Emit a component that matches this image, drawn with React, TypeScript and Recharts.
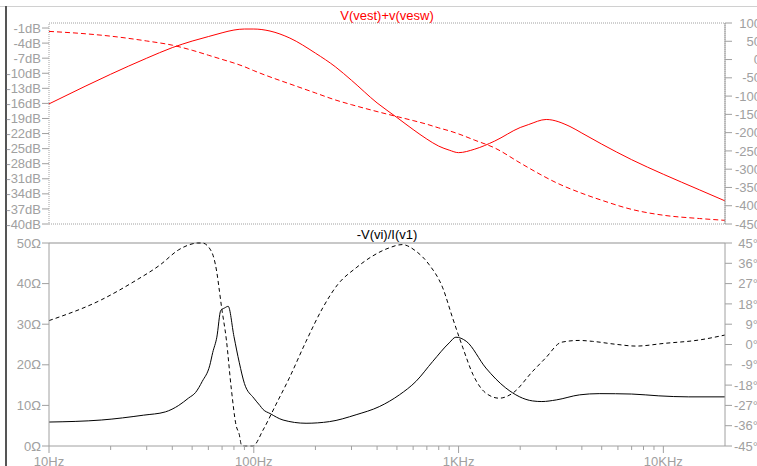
import React from "react";
import { LineChart, Line, XAxis, YAxis, ReferenceArea, ReferenceLine } from "recharts";

const FONT = "'Liberation Sans', Arial, sans-serif";
const AXIS = "#a0a0a0";

// top pane: V(vest)+v(vesw), magnitude (dB) and phase
const MAG_FREQ = [10, 15, 20, 30, 40, 50, 60, 70, 80, 90, 100, 120, 150, 200, 250, 300, 400, 500, 600, 700, 800, 900, 1000, 1200, 1500, 2000, 2200, 2680, 3500, 4000, 5000, 7000, 10000, 15000, 20000];
const MAG_DB = [-16.1, -12.6, -10.2, -7.0, -4.9, -3.6, -2.7, -1.95, -1.4, -1.2, -1.2, -1.6, -3.0, -6.0, -8.7, -11.4, -15.9, -18.8, -21.2, -23.1, -24.5, -25.3, -25.8, -25.1, -23.5, -20.8, -20.2, -19.2, -20.6, -21.9, -24.1, -27.2, -30.1, -33.2, -35.4];
const PH_FREQ = [10, 15, 20, 30, 40, 50, 60, 70, 80, 90, 100, 120, 150, 200, 250, 300, 400, 500, 600, 700, 800, 900, 1000, 1200, 1500, 2000, 2500, 3000, 4000, 5000, 7000, 10000, 15000, 20000];
const PH_DEG = [77, 70.6, 64, 50.8, 39.3, 25.4, 11.9, 0.4, -9.5, -19.6, -30.4, -47.5, -66.7, -91.4, -110.5, -123.5, -142.3, -156, -167, -177, -187, -195, -203.5, -220.7, -241.8, -283, -314, -337, -366, -385, -410, -426, -435, -440];

// bottom pane: -V(vi)/I(v1), impedance and phase
const Z_FREQ = [10, 18, 29, 37, 43, 48, 52, 56, 61, 63, 66, 69, 72, 75, 80, 85, 90, 100, 107, 111, 120, 139, 180, 234, 316, 410, 514, 619, 747, 900, 970, 1090, 1360, 1700, 2300, 2550, 3000, 3900, 4860, 7000, 9500, 13300, 20000];
const Z_OHM = [5.9, 6.4, 7.6, 8.4, 10.0, 11.8, 13.2, 15.9, 19.9, 23.0, 26.8, 33.4, 34.0, 34.4, 27.0, 20.5, 15.4, 11.8, 10.0, 9.0, 8.0, 6.4, 5.6, 6.0, 7.7, 9.7, 12.6, 15.9, 20.8, 25.4, 26.8, 25.8, 19.2, 14.3, 11.1, 10.95, 11.35, 12.6, 12.9, 12.8, 12.35, 12.1, 12.1];
const ZPH_FREQ = [10, 18, 26, 35, 43, 50, 53, 56, 62, 66, 68, 69.5, 73.5, 77.6, 81.9, 85, 87, 90, 99, 111, 128, 149, 180, 217, 257, 316, 380, 460, 530, 619, 717, 837, 935, 1050, 1177, 1361, 1579, 1836, 2300, 2660, 3180, 3880, 4500, 5850, 7350, 10100, 14950, 20000];
const ZPH_DEG = [10.6, 19.8, 27.9, 35.4, 42, 44.6, 45, 45, 41.4, 32, 23.5, 17, 2, -19.3, -35.7, -40, -44.5, -45, -45, -37.9, -26.8, -14.9, 1.4, 16.2, 26.6, 34, 39.2, 42.9, 44.3, 41.4, 35.5, 25.1, 11.8, -1.5, -13.4, -21.6, -23.8, -21.6, -11.9, -6.0, 1.0, 1.8, 1.4, 0.1, -0.7, 0.5, 2.0, 4.2];

const DB_TICKS = [-1, -4, -7, -10, -13, -16, -19, -22, -25, -28, -31, -34, -37, -40];
const TOP_PH_TICKS = [100, 50, 0, -50, -100, -150, -200, -250, -300, -350, -400, -450];
const OHM_TICKS = [0, 10, 20, 30, 40, 50];
const DEG_TICKS = [45, 36, 27, 18, 9, 0, -9, -18, -27, -36, -45];
const DECADES = [10, 100, 1000, 10000];
const DECADE_LABELS = ["10Hz", "100Hz", "1KHz", "10KHz"];
const MINOR = [20, 30, 40, 50, 60, 70, 80, 90, 200, 300, 400, 500, 600, 700, 800, 900, 2000, 3000, 4000, 5000, 6000, 7000, 8000, 9000];

const zip = (f: number[], v: number[]) => f.map((x, i) => ({ f: x, v: v[i] }));

const txt = { fill: AXIS, fontSize: 13, fontFamily: FONT };

function leftTick(unit: string) {
  return (p: any) => (
    <g>
      <line x1={p.x - 7} x2={p.x} y1={p.y} y2={p.y} stroke={AXIS} />
      <text x={p.x - 8} y={p.y} dy={4.6} textAnchor="end" {...txt}>
        {`${p.payload.value}${unit}`}
      </text>
    </g>
  );
}

function rightTick(unit: string, endX: number) {
  return (p: any) => (
    <g>
      <line x1={p.x} x2={p.x + 7} y1={p.y} y2={p.y} stroke={AXIS} />
      <text x={endX} y={p.y} dy={4.6} textAnchor="end" {...txt}>
        {`${p.payload.value}${unit}`}
      </text>
    </g>
  );
}

function freqTick(p: any) {
  const i = DECADES.indexOf(p.payload.value);
  return (
    <g>
      <line x1={p.x} x2={p.x} y1={p.y} y2={p.y + (i >= 0 ? 7 : 4)} stroke={AXIS} />
      {i >= 0 && (
        <text x={p.x} y={p.y + 20} textAnchor="middle" {...txt}>
          {DECADE_LABELS[i]}
        </text>
      )}
    </g>
  );
}

const xProps = {
  dataKey: "f",
  type: "number" as const,
  scale: "log" as const,
  domain: [10, 20000],
  allowDataOverflow: true,
};

function TopPane() {
  return (
    <LineChart width={757} height={230} margin={{ top: 23, right: 0, bottom: 6, left: 0 }}>
      <XAxis {...xProps} hide />
      <YAxis yAxisId="db" domain={[-40, 0]} ticks={DB_TICKS} width={49} tickSize={0} tickMargin={0} axisLine={false} tick={leftTick("dB")} interval={0} />
      <YAxis yAxisId="ph" orientation="right" domain={[-450, 100]} ticks={TOP_PH_TICKS} width={32} tickSize={0} tickMargin={0} axisLine={{ stroke: AXIS }} tick={rightTick("", 761)} interval={0} />
      <ReferenceArea yAxisId="db" x1={10} x2={20000} y1={-40} y2={0} fill="none" stroke={AXIS} strokeDasharray="1 1" ifOverflow="visible" />
      <Line data={zip(MAG_FREQ, MAG_DB)} yAxisId="db" dataKey="v" type="monotone" stroke="#ff0000" strokeWidth={1} dot={false} isAnimationActive={false} />
      <Line data={zip(PH_FREQ, PH_DEG)} yAxisId="ph" dataKey="v" type="monotone" stroke="#ff0000" strokeWidth={1} strokeDasharray="5 3" dot={false} isAnimationActive={false} />
    </LineChart>
  );
}

function BottomPane() {
  return (
    <LineChart width={757} height={236} margin={{ top: 13, right: 0, bottom: 0, left: 0 }}>
      <XAxis {...xProps} height={20} ticks={[...DECADES, ...MINOR]} tickSize={0} tickMargin={0} axisLine={{ stroke: AXIS }} tick={freqTick} interval={0} />
      <YAxis yAxisId="z" domain={[0, 50]} ticks={OHM_TICKS} width={49} tickSize={0} tickMargin={0} axisLine={{ stroke: AXIS }} tick={leftTick("Ω")} interval={0} />
      <YAxis yAxisId="deg" orientation="right" domain={[-45, 45]} ticks={DEG_TICKS} width={32} tickSize={0} tickMargin={0} axisLine={{ stroke: AXIS }} tick={rightTick("°", 758)} interval={0} />
      <ReferenceLine yAxisId="z" y={50} stroke="#c8c8c8" strokeWidth={2} />
      <Line data={zip(Z_FREQ, Z_OHM)} yAxisId="z" dataKey="v" type="monotone" stroke="#000" strokeWidth={1} dot={false} isAnimationActive={false} />
      <Line data={zip(ZPH_FREQ, ZPH_DEG)} yAxisId="deg" dataKey="v" type="monotone" stroke="#000" strokeWidth={1} strokeDasharray="4 3" dot={false} isAnimationActive={false} />
    </LineChart>
  );
}

const title = {
  position: "absolute" as const,
  left: 49,
  width: 676,
  textAlign: "center" as const,
  fontFamily: FONT,
  fontSize: 13,
  lineHeight: "13px",
};

export default function App() {
  return (
    <div style={{ position: "absolute", left: 0, top: 0, width: 757, height: 466, background: "#fff", overflow: "hidden" }}>
      <div style={{ position: "absolute", left: 0, top: 6, width: 757, height: 1, background: "#d0d0d0" }} />
      <div style={{ position: "absolute", left: 5, top: 6, width: 2, height: 460, background: "#555" }} />
      <div style={{ position: "absolute", left: 0, top: 0 }}>
        <TopPane />
      </div>
      <div style={{ position: "absolute", left: 0, top: 230 }}>
        <BottomPane />
      </div>
      <div style={{ ...title, top: 8.6, color: "#ff0000" }}>V(vest)+v(vesw)</div>
      <div style={{ ...title, top: 227.6, color: "#000" }}>-V(vi)/I(v1)</div>
    </div>
  );
}
